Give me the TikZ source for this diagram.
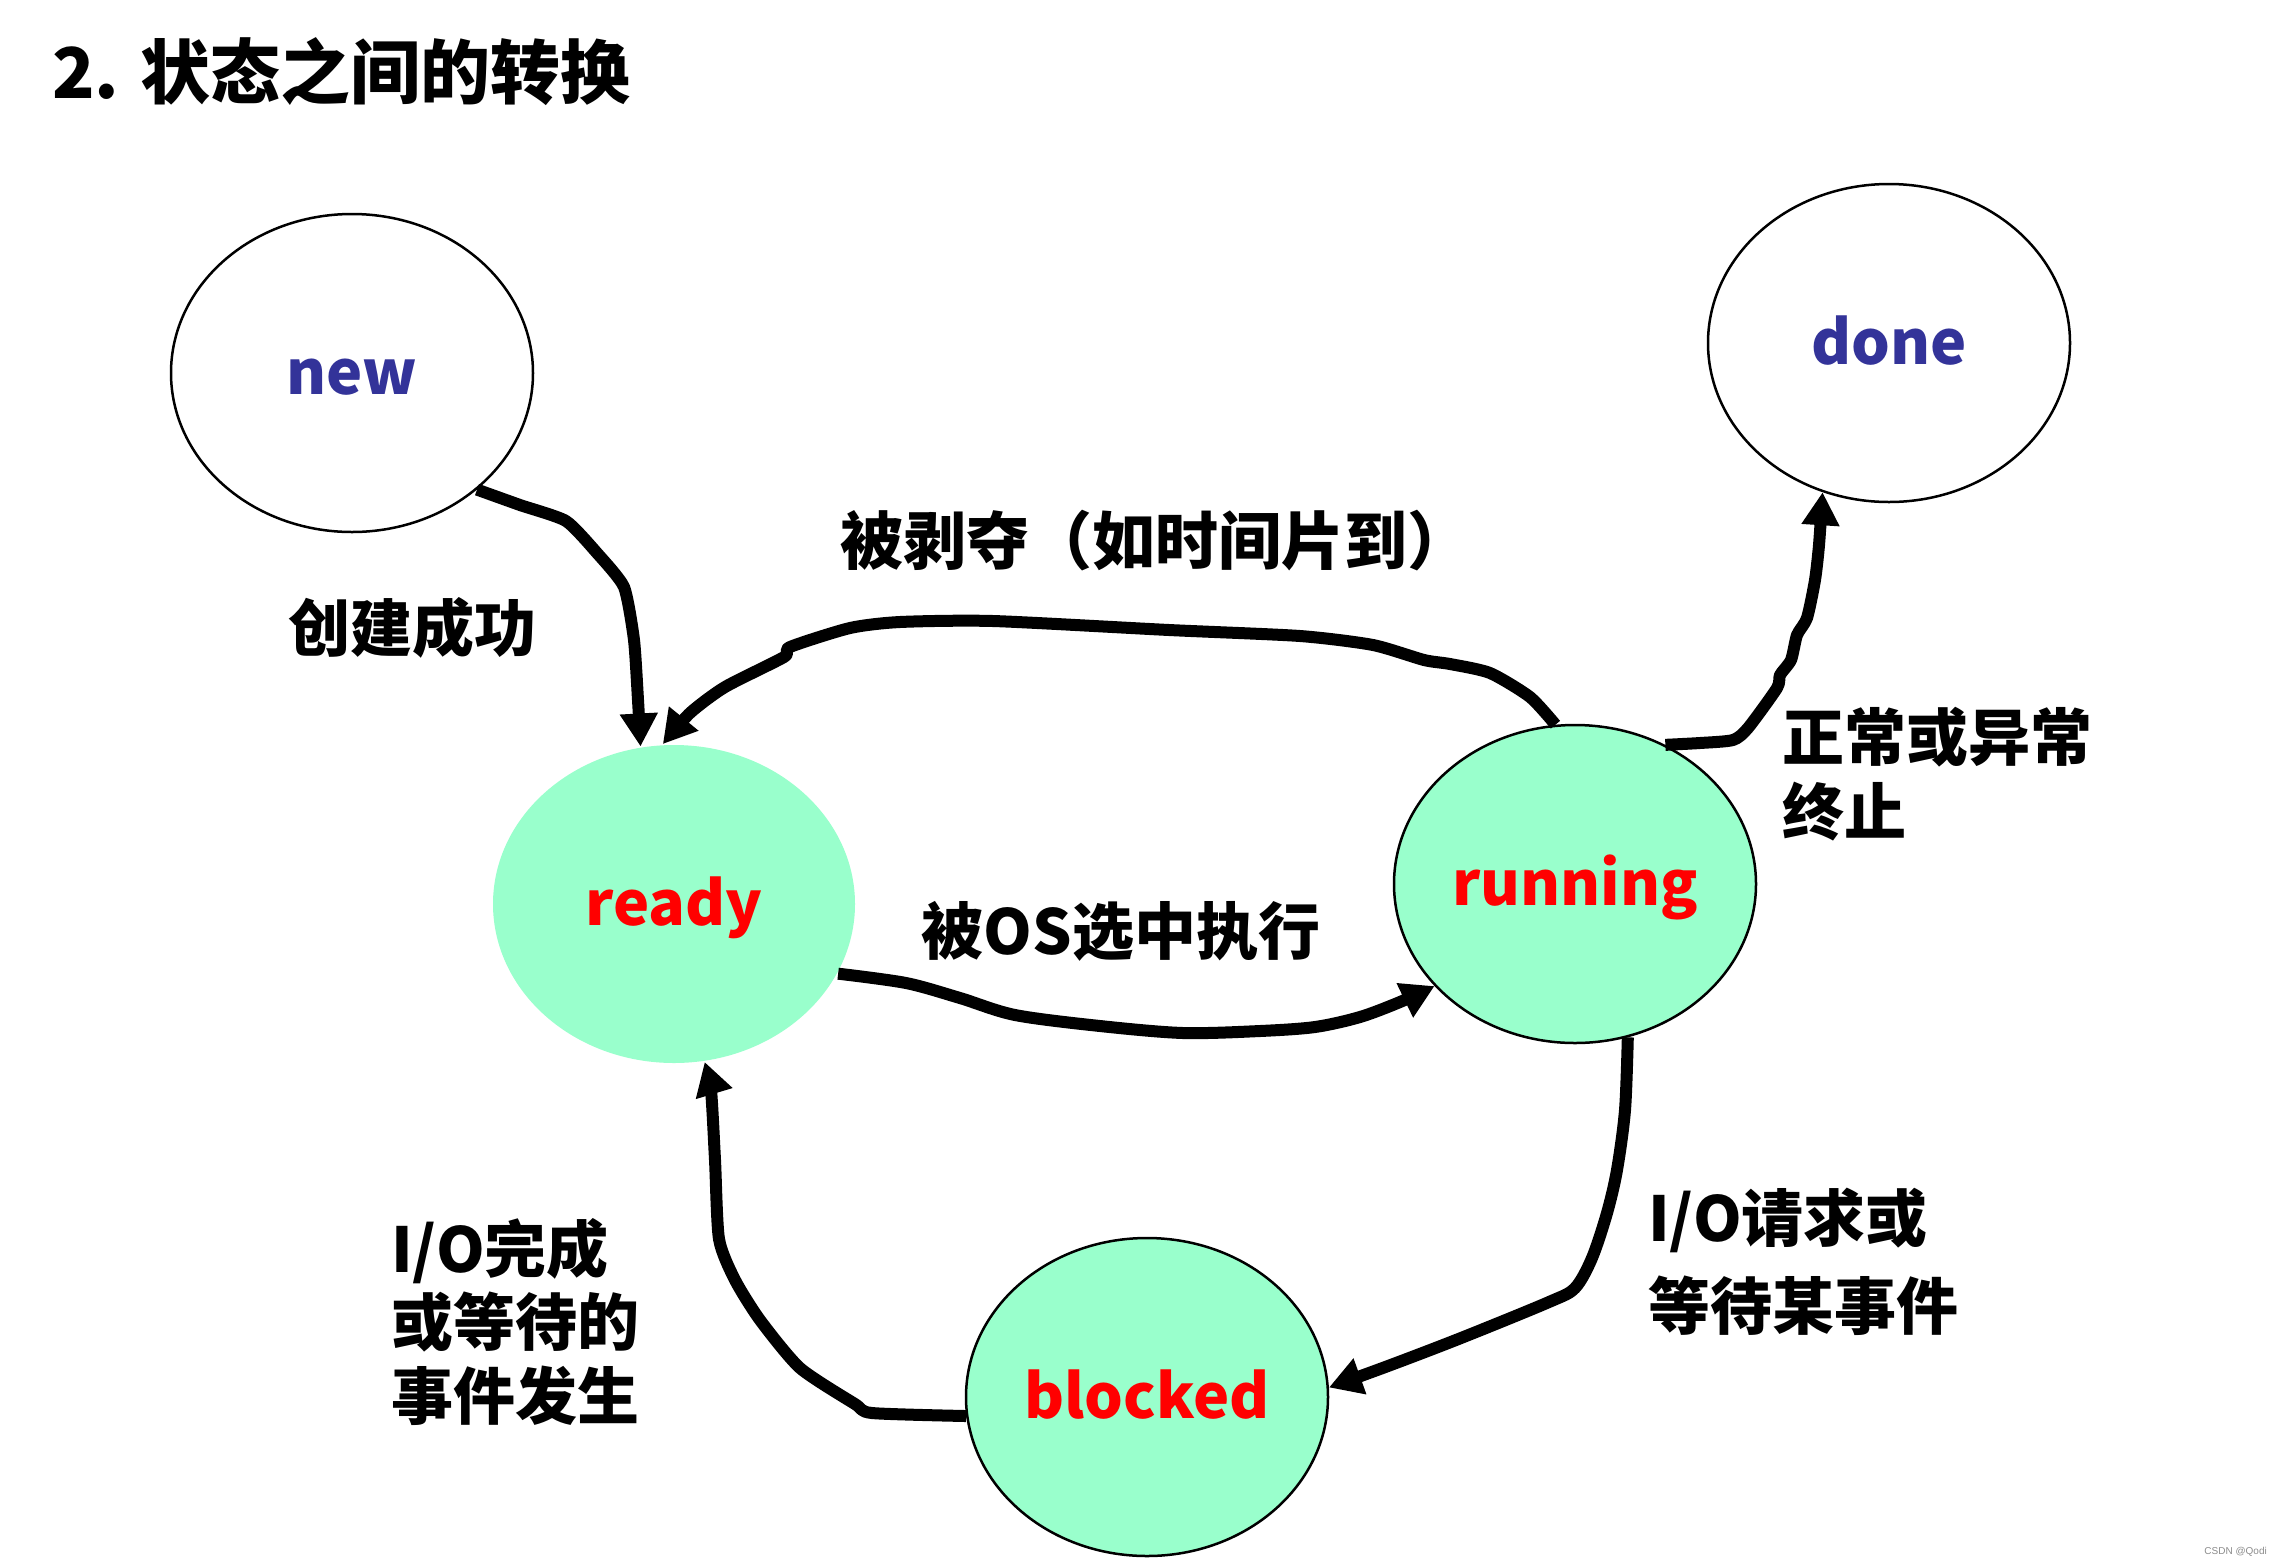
\documentclass[tikz,border=0pt]{standalone}
\usepackage{fontspec}
\newfontfamily\cjk{Noto Sans CJK SC}
\newfontfamily\arialf{Liberation Sans}
\usetikzlibrary{arrows.meta,shapes.geometric}
\definecolor{stfill}{HTML}{99FFCC}
\definecolor{stblue}{HTML}{333399}
\definecolor{stred}{HTML}{FF0000}
\begin{document}
\begin{tikzpicture}[x=1pt,y=-1pt,
  state/.style={ellipse, minimum width=362pt, minimum height=318pt, inner sep=0pt,
    line width=2.5pt},
  stname/.style={inner sep=0pt, text height=42pt, text depth=0pt,
    font=\cjk\bfseries\fontsize{61}{74}\selectfont},
  conn/.style={line width=12pt, -{Triangle[length=33pt,width=36pt]}, line join=round},
  lbl/.style={font=\cjk\bfseries\fontsize{62}{75}\selectfont, inner sep=0pt, align=left},
]
\fill[white] (0,0) rectangle (2291,1567);
\useasboundingbox (0,0) rectangle (2291,1567);

\node[anchor=north west, inner sep=0pt, font=\cjk\bfseries\fontsize{70}{80}\selectfont] (title) at (52,37) {2. 状态之间的转换};

\node[state, draw, fill=white, label={[stname, text=stblue]center:new}] (new) at (352,373) {};
\node[state, draw, fill=white, label={[stname, text=stblue]center:done}] (done) at (1889,343) {};
\node[state, fill=stfill, label={[stname, text=stred]center:ready}] (ready) at (674,904) {};
\node[state, draw, fill=stfill, label={[stname, text=stred]center:running}] (running) at (1575,884) {};
\node[state, draw, fill=stfill, label={[stname, text=stred]center:blocked}] (blocked) at (1147,1397) {};

% new -> ready
\draw[conn] plot[smooth, tension=0.35] coordinates {(new.-43) (520,505) (566,521) (597,553) (624,587) (634,640) (638,700) (ready.102)};
% running -> ready
\draw[conn] plot[smooth, tension=0.4] coordinates {(running.97) (1530,697) (1490,673) (1450,664) (1424,660) (1373,645) (1300,636) (1169,630) (993,621) (900,622) (850,628) (790,647) (784,657) (725,687) (690,713) (ready.94)};
% ready -> running
\draw[conn] plot[smooth, tension=0.5] coordinates {(ready.-23) (906,983) (960,998) (1015,1015) (1100,1026) (1183,1033) (1260,1031) (1315,1027) (1360,1017) (1400,1002) (running.216)};
% running -> blocked
\draw[conn] plot[smooth, tension=0.5] coordinates {(running.-71.5) (1625,1110) (1617,1170) (1607,1213) (1592,1258) (1575,1288) (1549,1302) (1461,1338) (1388,1366) (blocked.3)};
% blocked -> ready
\draw[conn] plot[smooth, tension=0.4] coordinates {(blocked.186) (872,1413) (855,1404) (800,1368) (760,1320) (735,1280) (719,1239) (715,1160) (711,1090) (ready.-79)};
% running -> done
\draw[conn] plot[smooth, tension=0.4] coordinates {(running.57) (1700,743) (1733,740) (1748,728) (1777,688) (1780,675) (1791,660) (1797,635) (1807,618) (1815,580) (1819,545) (done.-114)};

\node[lbl] (lcreate) at (412,628) {创建成功};
\node[lbl, anchor=west, font=\cjk\bfseries\fontsize{63}{75}\selectfont] (lpreempt) at (840,541) {被剥夺（如时间片到）};
\node[lbl] (lsched) at (1121,931) {被OS选中执行};
\node[lbl, anchor=north west] (lexit) at (1782,707) {正常或异常\\终止};
\node[lbl, anchor=north west, font=\cjk\bfseries\fontsize{62}{88}\selectfont] (lio) at (1648,1188) {I/O请求或\\等待某事件};
\node[lbl, anchor=north west, font=\cjk\bfseries\fontsize{62}{73.5}\selectfont] (ldone) at (391,1218) {I/O完成\\或等待的\\事件发生};

\node[font=\arialf\fontsize{10}{12}\selectfont, text=black!45, anchor=east, inner sep=0pt] (wm) at (2267,1552) {CSDN @Qodi};
\end{tikzpicture}
\end{document}
